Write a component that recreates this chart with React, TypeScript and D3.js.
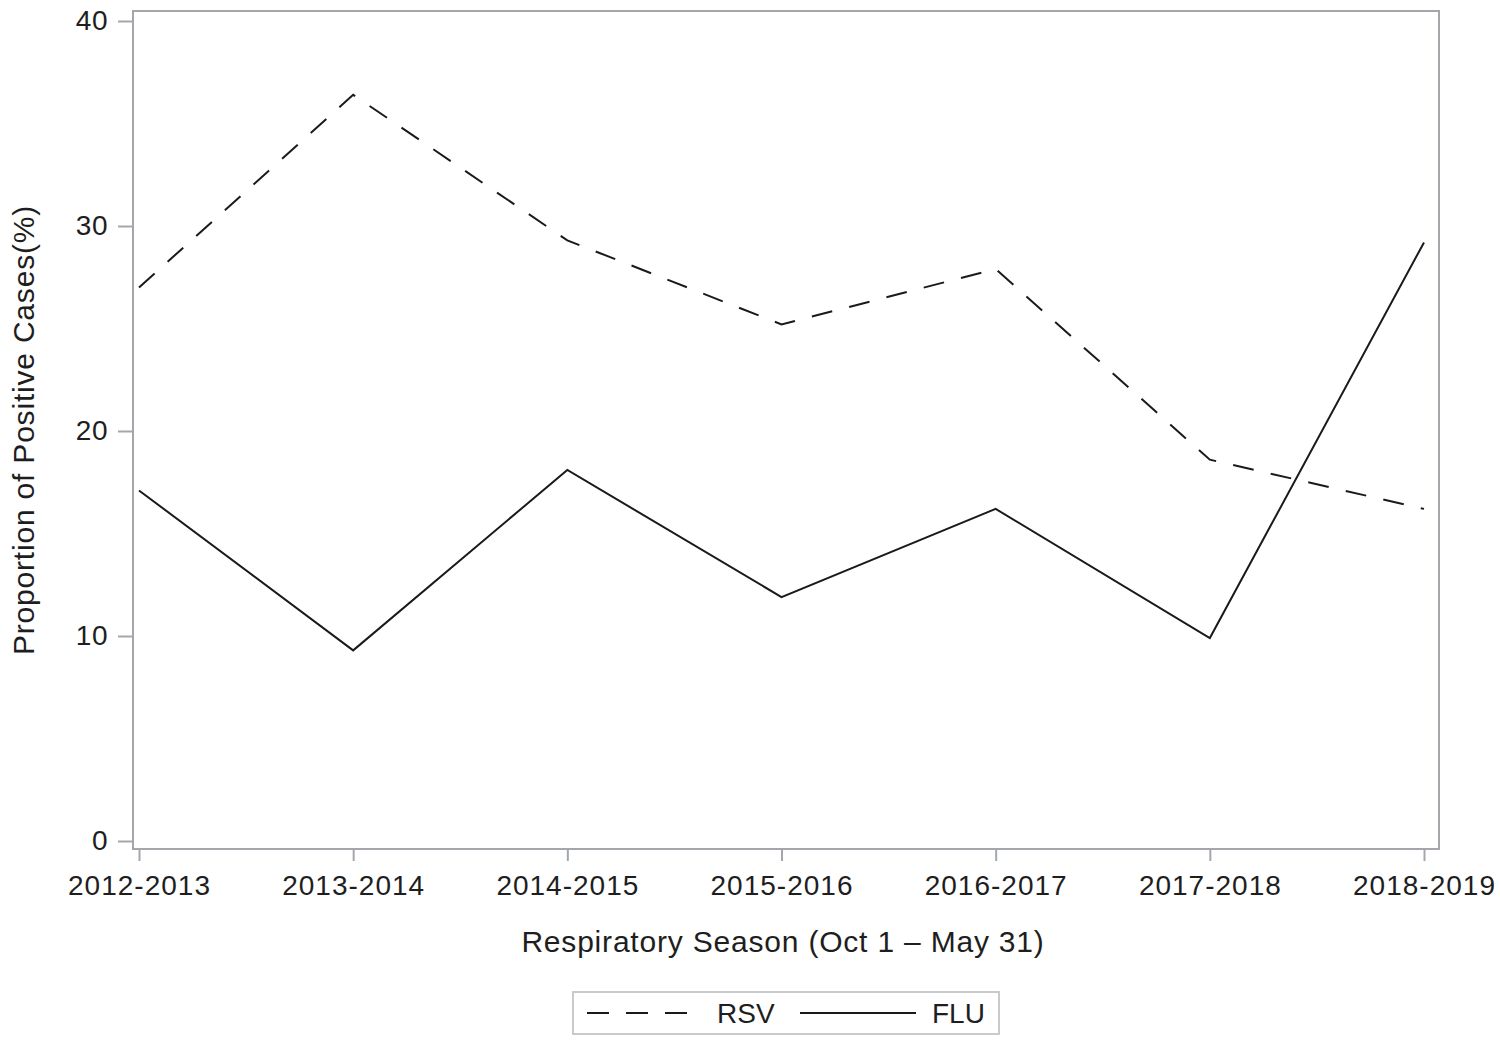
import { useRef, useEffect } from "react";
import * as d3 from "d3";

const seasons = ["2012-2013", "2013-2014", "2014-2015", "2015-2016", "2016-2017", "2017-2018", "2018-2019"];
const rsv = [27.0, 36.4, 29.3, 25.2, 27.9, 18.6, 16.2];
const flu = [17.1, 9.3, 18.1, 11.9, 16.2, 9.9, 29.2];
const yTicks = [0, 10, 20, 30, 40];

const W = 1500, H = 1043;
const FONT = "'Liberation Sans', Arial, sans-serif";

export default function App() {
  const svgRef = useRef<SVGSVGElement>(null);

  useEffect(() => {
    if (!svgRef.current) return;
    const svg = d3.select(svgRef.current);
    svg.selectAll("*").remove();

    // plot frame
    const frame = { left: 133, right: 1439, top: 11, bottom: 849 };
    const x = d3.scalePoint<string>().domain(seasons).range([139, 1424]);
    const y = d3.scaleLinear().domain([0, 40]).range([841, 21]);
    const axisColor = "#a3a7ab";
    const textColor = "#1e1e1e";

    svg.append("rect")
      .attr("x", frame.left).attr("y", frame.top)
      .attr("width", frame.right - frame.left).attr("height", frame.bottom - frame.top)
      .attr("fill", "none").attr("stroke", axisColor).attr("stroke-width", 2);

    // y axis
    const ya = svg.append("g").attr("transform", `translate(${frame.left},0)`)
      .call(d3.axisLeft(y).tickValues(yTicks).tickSize(15).tickPadding(10).tickFormat(d3.format("d")));
    ya.select(".domain").remove();
    ya.selectAll("line").attr("stroke", axisColor).attr("stroke-width", 2);
    ya.selectAll("text").attr("fill", textColor).attr("font-size", 28).attr("font-family", FONT)
      .attr("letter-spacing", 0.5);

    // x axis
    const xa = svg.append("g").attr("transform", `translate(0,${frame.bottom})`)
      .call(d3.axisBottom(x).tickSize(12).tickPadding(14));
    xa.select(".domain").remove();
    xa.selectAll("line").attr("stroke", axisColor).attr("stroke-width", 2);
    xa.selectAll("text").attr("fill", textColor).attr("font-size", 28).attr("font-family", FONT)
      .attr("letter-spacing", 1);

    // axis titles
    svg.append("text").attr("x", 783).attr("y", 952).attr("text-anchor", "middle")
      .attr("font-size", 30).attr("font-family", FONT).attr("fill", textColor).attr("letter-spacing", 0.8)
      .text("Respiratory Season (Oct 1 \u2013 May 31)");
    svg.append("text").attr("transform", "translate(34,430) rotate(-90)").attr("text-anchor", "middle")
      .attr("font-size", 30).attr("font-family", FONT).attr("fill", textColor).attr("letter-spacing", 0.8)
      .text("Proportion of Positive Cases(%)");

    const line = d3.line<number>().x((_, i) => x(seasons[i])!).y(d => y(d));
    svg.append("path").datum(rsv).attr("d", line).attr("fill", "none")
      .attr("stroke", "#1a1a1a").attr("stroke-width", 2).attr("stroke-dasharray", "21,17.5");
    svg.append("path").datum(flu).attr("d", line).attr("fill", "none")
      .attr("stroke", "#1a1a1a").attr("stroke-width", 2);

    // legend
    const lg = svg.append("g");
    lg.append("rect").attr("x", 573).attr("y", 992).attr("width", 426).attr("height", 42)
      .attr("fill", "none").attr("stroke", "#c8cacc").attr("stroke-width", 2);
    lg.append("line").attr("x1", 587).attr("x2", 687).attr("y1", 1013).attr("y2", 1013)
      .attr("stroke", "#1a1a1a").attr("stroke-width", 2).attr("stroke-dasharray", "22,17");
    lg.append("text").attr("x", 717).attr("y", 1023).attr("font-size", 28).attr("font-family", FONT)
      .attr("fill", textColor).text("RSV");
    lg.append("line").attr("x1", 800).attr("x2", 916).attr("y1", 1013).attr("y2", 1013)
      .attr("stroke", "#1a1a1a").attr("stroke-width", 2);
    lg.append("text").attr("x", 932).attr("y", 1023).attr("font-size", 28).attr("font-family", FONT)
      .attr("fill", textColor).text("FLU");
  }, []);

  return (
    <svg ref={svgRef} width={W} height={H}
      style={{ position: "absolute", left: 0, top: 0, background: "#fff" }} />
  );
}
